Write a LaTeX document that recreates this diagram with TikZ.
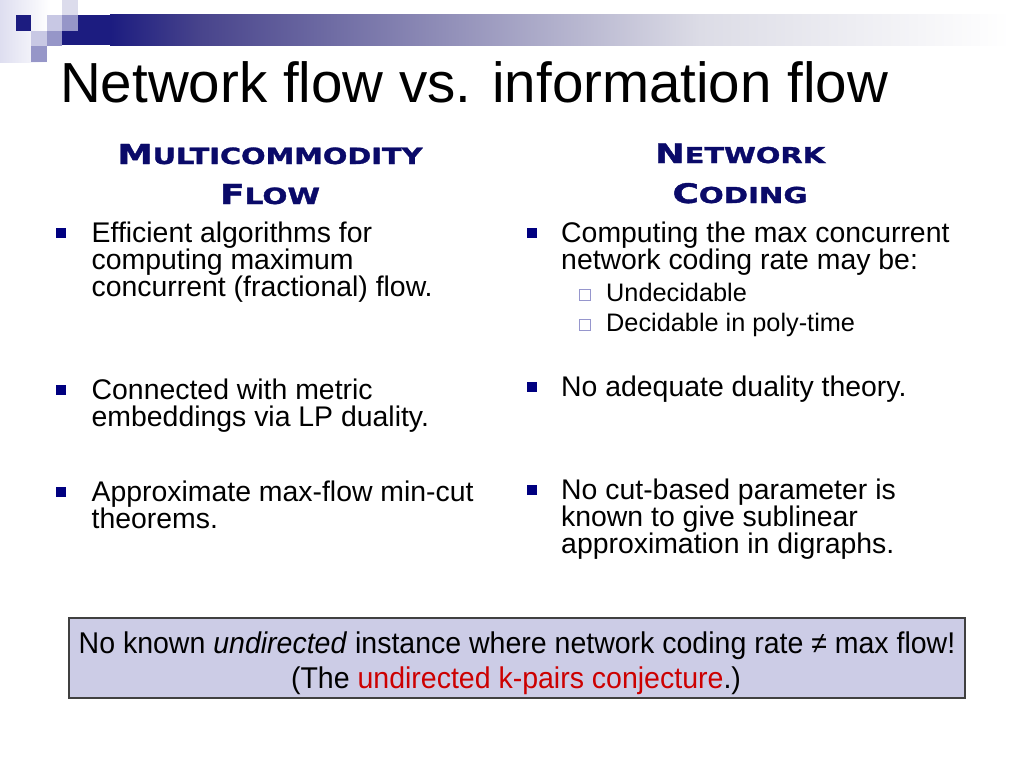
\documentclass[tikz,border=0pt]{standalone}
\usepackage{fontspec}
\usepackage{graphicx}
\setmainfont{Liberation Sans}
\newfontfamily\hfont[BoldFeatures={FakeBold=1.3}]{DejaVu Sans}
\definecolor{navy}{RGB}{0,0,128}
\definecolor{hnavy}{RGB}{10,10,105}
\definecolor{boxfill}{RGB}{204,204,230}
\definecolor{kred}{RGB}{204,0,0}
\definecolor{barA}{RGB}{28,28,128}
\definecolor{barB}{RGB}{72,68,140}
\definecolor{barC}{RGB}{220,220,230}
\definecolor{sqT}{RGB}{220,220,236}
\definecolor{sqL}{RGB}{200,200,228}
\definecolor{sqM}{RGB}{150,150,200}
\definecolor{subsq}{RGB}{150,150,205}
\definecolor{corner}{RGB}{222,222,240}
\tikzset{
  btext/.style={anchor=north west, inner sep=0pt, align=left, font=\fontsize{28.4}{27}\selectfont},
  stext/.style={anchor=base west, inner sep=0pt, font=\fontsize{25.3}{27}\selectfont},
  bsq/.style={rectangle, fill=navy, draw=none, minimum size=10pt, inner sep=0pt},
  ssq/.style={rectangle, draw=subsq, line width=1pt, fill=white, minimum size=11pt, inner sep=0pt},
  head/.style={anchor=base, inner sep=0pt, text=hnavy},
  boxline/.style={anchor=base, inner sep=0pt, font=\fontsize{30}{32}\selectfont}
}
\begin{document}
\begin{tikzpicture}[x=1pt,y=-1pt]
\fill[white] (0,0) rectangle (1024,768);
\useasboundingbox (0,0) rectangle (1024,768);
% corner decoration
\shade[left color=corner, right color=white] (0,0) rectangle (50,62);
\fill[sqT] (62,0) rectangle (77.5,15.5);
\fill[barA] (15.5,15.5) rectangle (31,31);
\fill[sqL] (46.5,15.5) rectangle (62,31);
\fill[sqM] (62,15.5) rectangle (77.5,31);
\fill[sqL] (31,31) rectangle (46.5,46.5);
\fill[sqM] (46.5,31) rectangle (62,46.5);
\fill[sqM] (31,46.5) rectangle (46.5,62);
\fill[barA] (62,31) rectangle (110.5,45.5);
\fill[barA] (77.5,15) rectangle (110.5,45.5);
\shade[left color=barA, right color=barB] (110,15) rectangle (200.5,45.5);
\shade[left color=barB, right color=barC] (200,15) rectangle (700.5,45.5);
\shade[left color=barC, right color=white] (700,15) rectangle (1010,45.5);
% title
\node[anchor=base west, inner sep=0pt, font=\fontsize{56.5}{60}\selectfont] (title) at (60,102) {Network flow vs. information flow};
% headings
\node[head] (h1a) at (270,164) {\resizebox{305pt}{20pt}{\hfont\bfseries\fontsize{27}{27}\selectfont M\fontsize{22}{22}\selectfont ULTICOMMODITY}};
\node[head] (h1b) at (270,204) {\resizebox{100pt}{20pt}{\hfont\bfseries\fontsize{27}{27}\selectfont F\fontsize{22}{22}\selectfont LOW}};
\node[head] (h2a) at (740,163) {\resizebox{170pt}{19.5pt}{\hfont\bfseries\fontsize{27}{27}\selectfont N\fontsize{22}{22}\selectfont ETWORK}};
\node[head] (h2b) at (740,203) {\resizebox{135pt}{20pt}{\hfont\bfseries\fontsize{27}{27}\selectfont C\fontsize{22}{22}\selectfont ODING}};
% left column
\node[bsq] (b1) at (61,233) {};
\node[btext] (t1) at (91.5,218) {\rule{0pt}{24pt}Efficient algorithms for\\computing maximum\\concurrent (fractional) flow.};
\node[bsq] (b2) at (61,390) {};
\node[btext] (t2) at (91.5,375) {\rule{0pt}{24pt}Connected with metric\\embeddings via LP duality.};
\node[bsq] (b3) at (61,492) {};
\node[btext] (t3) at (91.5,477) {\rule{0pt}{24pt}Approximate max-flow min-cut\\theorems.};
% right column
\node[bsq] (b4) at (531.5,233) {};
\node[btext] (t4) at (561,218) {\rule{0pt}{24pt}Computing the max concurrent\\network coding rate may be:};
\node[ssq] (s1) at (584.5,294.5) {};
\node[stext] (u1) at (606,301) {Undecidable};
\node[ssq] (s2) at (584.5,324.5) {};
\node[stext] (u2) at (606,331) {Decidable in poly-time};
\node[bsq] (b5) at (531.5,387) {};
\node[btext] (t5) at (561,372) {\rule{0pt}{24pt}No adequate duality theory.};
\node[bsq] (b6) at (531.5,490) {};
\node[btext] (t6) at (561,475) {\rule{0pt}{24pt}No cut-based parameter is\\known to give sublinear\\approximation in digraphs.};
% bottom box
\node[draw=black!75, fill=boxfill, line width=1.2pt, minimum width=896pt, minimum height=80pt, inner sep=0pt] (box) at (517,658) {};
\node[boxline] (l1) at (517,653) {\scalebox{0.95}[1]{No known \textit{undirected} instance where network coding rate ≠ max flow!}};
\node[boxline] (l2) at (516,688) {\scalebox{0.95}[1]{(The \textcolor{kred}{undirected k-pairs conjecture}.)}};
\end{tikzpicture}
\end{document}
